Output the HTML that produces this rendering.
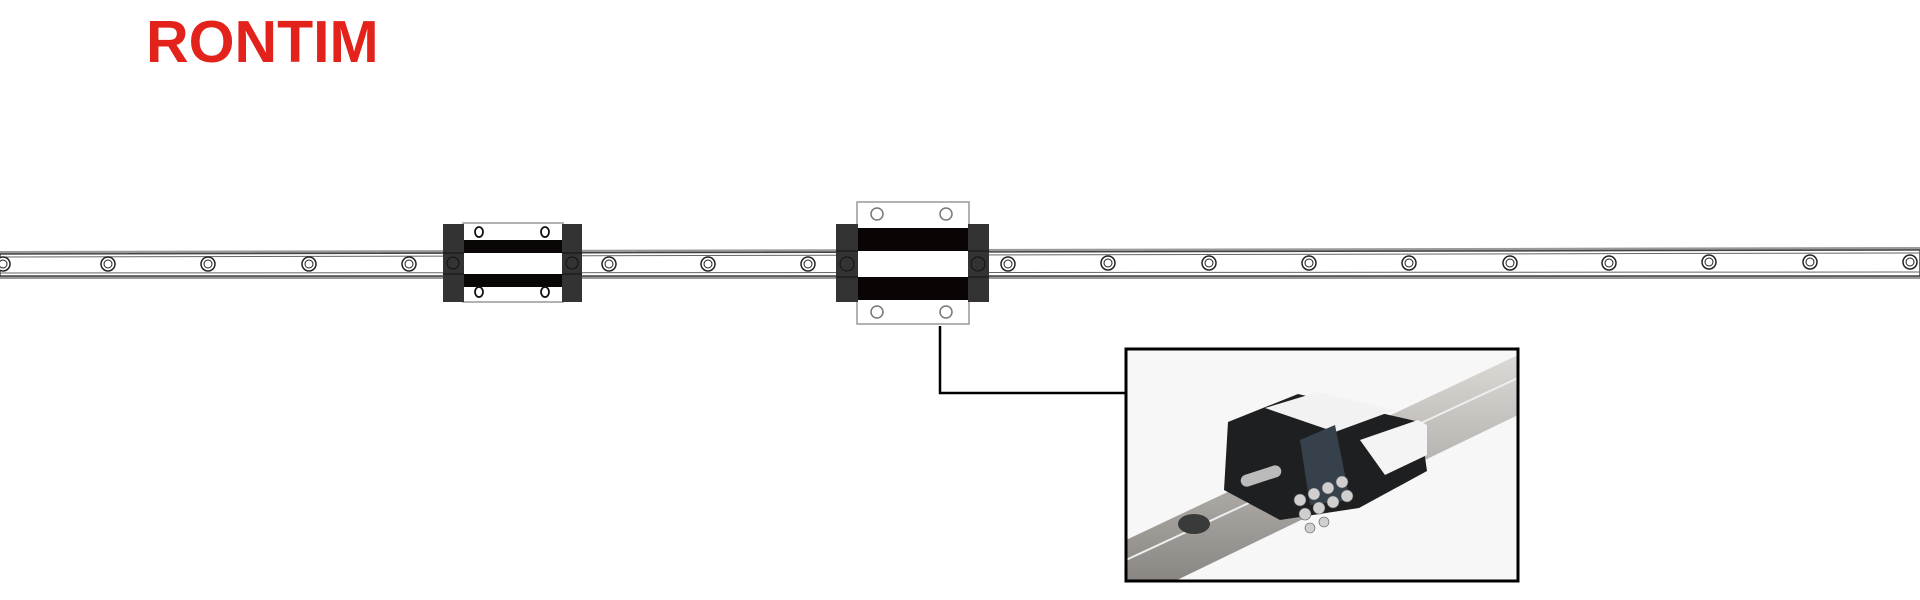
<!DOCTYPE html>
<html><head><meta charset="utf-8"><style>
body{margin:0;width:1920px;height:600px;background:#fff;overflow:hidden;position:relative;font-family:"Liberation Sans",sans-serif}
.logo{position:absolute;left:146px;top:8px;font-size:59px;font-weight:bold;color:#e3231b;letter-spacing:0px}
</style></head><body>
<div class="logo">RONTIM</div>
<svg width="1920" height="600" style="position:absolute;left:0;top:0">
<!-- rail -->
<polygon points="0,251 1920,247 1920,279 0,279" fill="#999"/>
<polygon points="0,254 1920,250 1920,276 0,276" fill="#fff" stroke="#444" stroke-width="1.5"/>
<line x1="0" y1="257" x2="1920" y2="253" stroke="#666" stroke-width="1"/>
<line x1="0" y1="273" x2="1920" y2="272" stroke="#666" stroke-width="1"/>
<g fill="#fff" stroke="#222" stroke-width="1.5">
<circle cx="3" cy="264" r="7"/><circle cx="108" cy="264" r="7"/><circle cx="208" cy="264" r="7"/><circle cx="309" cy="264" r="7"/><circle cx="409" cy="264" r="7"/><circle cx="609" cy="264" r="7"/><circle cx="708" cy="264" r="7"/><circle cx="808" cy="264" r="7"/><circle cx="1008" cy="264" r="7"/><circle cx="1108" cy="263" r="7"/><circle cx="1209" cy="263" r="7"/><circle cx="1309" cy="263" r="7"/><circle cx="1409" cy="263" r="7"/><circle cx="1510" cy="263" r="7"/><circle cx="1609" cy="263" r="7"/><circle cx="1709" cy="262" r="7"/><circle cx="1810" cy="262" r="7"/><circle cx="1910" cy="262" r="7"/>
</g>
<g fill="none" stroke="#222" stroke-width="1"><circle cx="3" cy="264" r="4"/><circle cx="108" cy="264" r="4"/><circle cx="208" cy="264" r="4"/><circle cx="309" cy="264" r="4"/><circle cx="409" cy="264" r="4"/><circle cx="609" cy="264" r="4"/><circle cx="708" cy="264" r="4"/><circle cx="808" cy="264" r="4"/><circle cx="1008" cy="264" r="4"/><circle cx="1108" cy="263" r="4"/><circle cx="1209" cy="263" r="4"/><circle cx="1309" cy="263" r="4"/><circle cx="1409" cy="263" r="4"/><circle cx="1510" cy="263" r="4"/><circle cx="1609" cy="263" r="4"/><circle cx="1709" cy="262" r="4"/><circle cx="1810" cy="262" r="4"/><circle cx="1910" cy="262" r="4"/></g>
<!-- small block -->
<rect x="463" y="223" width="100" height="79" fill="#fff" stroke="#999" stroke-width="1.5"/>
<rect x="463" y="240" width="100" height="13" fill="#0a0606"/>
<rect x="463" y="274" width="100" height="13" fill="#0a0606"/>
<rect x="443" y="224" width="21" height="78" fill="#333"/>
<rect x="562" y="224" width="20" height="78" fill="#333"/>
<line x1="443" y1="253" x2="464" y2="253" stroke="#111"/><line x1="443" y1="274" x2="464" y2="274" stroke="#111"/>
<line x1="562" y1="253" x2="582" y2="253" stroke="#111"/><line x1="562" y1="274" x2="582" y2="274" stroke="#111"/>
<circle cx="453" cy="263" r="6" fill="none" stroke="#111"/><circle cx="572" cy="263" r="6" fill="none" stroke="#111"/>
<g fill="#fff" stroke="#111" stroke-width="1.8"><ellipse cx="479" cy="232" rx="4" ry="5"/><ellipse cx="545" cy="232" rx="4" ry="5"/><ellipse cx="479" cy="292" rx="4" ry="5"/><ellipse cx="545" cy="292" rx="4" ry="5"/></g>
<!-- large block -->
<rect x="857" y="202" width="112" height="122" fill="#fff" stroke="#999" stroke-width="1.5"/>
<rect x="857" y="228" width="112" height="23" fill="#0a0404"/>
<rect x="857" y="277" width="112" height="23" fill="#0a0404"/>
<rect x="836" y="224" width="22" height="78" fill="#333"/>
<rect x="968" y="224" width="21" height="78" fill="#333"/>
<line x1="836" y1="251" x2="858" y2="251" stroke="#111"/><line x1="836" y1="277" x2="858" y2="277" stroke="#111"/>
<line x1="968" y1="251" x2="989" y2="251" stroke="#111"/><line x1="968" y1="277" x2="989" y2="277" stroke="#111"/>
<circle cx="847" cy="264" r="7" fill="none" stroke="#111"/><circle cx="978" cy="264" r="7" fill="none" stroke="#111"/>
<g fill="#fff" stroke="#777" stroke-width="1.5"><circle cx="877" cy="214" r="6"/><circle cx="946" cy="214" r="6"/><circle cx="877" cy="312" r="6"/><circle cx="946" cy="312" r="6"/></g>
<!-- connector -->
<polyline points="940,326 940,393 1126,393" fill="none" stroke="#000" stroke-width="2.5"/>
<!-- photo -->
<defs><linearGradient id="rg" x1="0" y1="0" x2="0" y2="1"><stop offset="0" stop-color="#dcd9d6"/><stop offset="0.5" stop-color="#b5b1ad"/><stop offset="1" stop-color="#8a8683"/></linearGradient></defs>
<rect x="1126" y="349" width="392" height="232" fill="#f7f7f7"/>
<polygon points="1126,540 1518,355 1518,415 1175,581 1126,581" fill="url(#rg)"/>
<line x1="1126" y1="560" x2="1518" y2="378" stroke="#eee" stroke-width="2"/>
<ellipse cx="1194" cy="524" rx="16" ry="10" fill="#3a3a3a"/>
<polygon points="1228,422 1298,394 1420,422 1427,471 1359,508 1280,520 1224,490" fill="#1e1f21"/>
<polygon points="1265,408 1318,392 1395,410 1335,432" fill="#f2f2f2"/>
<polygon points="1360,440 1418,420 1427,425 1427,455 1385,475" fill="#f4f4f4"/>
<polygon points="1300,440 1335,425 1350,500 1310,505" fill="#36414c"/>
<g fill="#cfcfcf" stroke="#555" stroke-width="0.6"><circle cx="1300" cy="500" r="6"/><circle cx="1314" cy="494" r="6"/><circle cx="1328" cy="488" r="6"/><circle cx="1342" cy="482" r="6"/><circle cx="1305" cy="514" r="6"/><circle cx="1319" cy="508" r="6"/><circle cx="1333" cy="502" r="6"/><circle cx="1347" cy="496" r="6"/><circle cx="1310" cy="528" r="5"/><circle cx="1324" cy="522" r="5"/></g>
<rect x="1240" y="470" width="42" height="12" rx="6" fill="#bbb" transform="rotate(-18 1261 476)"/>
<rect x="1126" y="349" width="392" height="232" fill="none" stroke="#000" stroke-width="3"/>
</svg>
</body></html>
